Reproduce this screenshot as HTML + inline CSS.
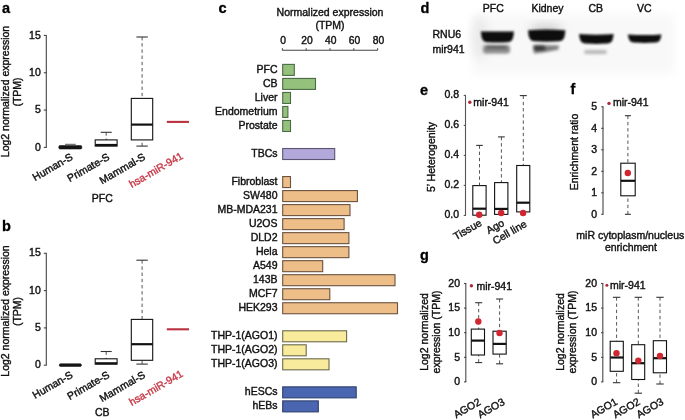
<!DOCTYPE html>
<html><head><meta charset="utf-8"><style>
html,body{margin:0;padding:0;background:#fff;width:685px;height:420px;overflow:hidden}
svg{display:block;font-family:"Liberation Sans", sans-serif;will-change:transform}
</style></head><body>
<svg width="685" height="420" viewBox="0 0 685 420">
<rect width="685" height="420" fill="#fff"/>
<text x="2" y="13" font-size="14.5" text-anchor="start" fill="#000" stroke="#000" stroke-width="0.3" font-weight="bold">a</text>
<line x1="46.30" y1="35.41" x2="46.30" y2="147.40" stroke="#444" stroke-width="1.1"/>
<line x1="43.80" y1="147.40" x2="46.80" y2="147.40" stroke="#444" stroke-width="1.1"/>
<text x="40.8" y="150.5" font-size="10.5" text-anchor="end" fill="#111" stroke="#111" stroke-width="0.4" font-weight="normal">0</text>
<line x1="43.80" y1="110.07" x2="46.80" y2="110.07" stroke="#444" stroke-width="1.1"/>
<text x="40.8" y="113.17" font-size="10.5" text-anchor="end" fill="#111" stroke="#111" stroke-width="0.4" font-weight="normal">5</text>
<line x1="43.80" y1="72.74" x2="46.80" y2="72.74" stroke="#444" stroke-width="1.1"/>
<text x="40.8" y="75.84" font-size="10.5" text-anchor="end" fill="#111" stroke="#111" stroke-width="0.4" font-weight="normal">10</text>
<line x1="43.80" y1="35.41" x2="46.80" y2="35.41" stroke="#444" stroke-width="1.1"/>
<text x="40.8" y="38.51000000000001" font-size="10.5" text-anchor="end" fill="#111" stroke="#111" stroke-width="0.4" font-weight="normal">15</text>
<text x="0" y="0" font-size="10.5" text-anchor="middle" fill="#111" stroke="#111" stroke-width="0.4" font-weight="normal" transform="translate(9.2,91.5) rotate(-90)">Log2 normalized expression</text>
<text x="0" y="0" font-size="10.5" text-anchor="middle" fill="#111" stroke="#111" stroke-width="0.4" font-weight="normal" transform="translate(21.4,92) rotate(-90)">(TPM)</text>
<line x1="65.00" y1="144.30" x2="75.70" y2="144.30" stroke="#555" stroke-width="1"/>
<rect x="58.80" y="145.60" width="23.00" height="3.40" fill="#151515" stroke="#151515" stroke-width="0.6" rx="1.2"/>
<line x1="106.20" y1="132.30" x2="106.20" y2="139.90" stroke="#555" stroke-width="1" stroke-dasharray="3.4,2.8"/>
<line x1="100.70" y1="132.30" x2="111.70" y2="132.30" stroke="#333" stroke-width="1.1"/>
<rect x="95.20" y="139.90" width="21.90" height="6.20" fill="white" stroke="#111" stroke-width="1.1"/>
<line x1="95.20" y1="145.00" x2="117.10" y2="145.00" stroke="#111" stroke-width="2.2"/>
<line x1="142.10" y1="37.00" x2="142.10" y2="98.40" stroke="#555" stroke-width="1" stroke-dasharray="3.4,2.8"/>
<line x1="136.40" y1="37.00" x2="147.80" y2="37.00" stroke="#333" stroke-width="1.1"/>
<line x1="142.10" y1="146.10" x2="142.10" y2="139.90" stroke="#555" stroke-width="1" stroke-dasharray="3.4,2.8"/>
<line x1="136.40" y1="146.10" x2="147.80" y2="146.10" stroke="#333" stroke-width="1.1"/>
<rect x="131.30" y="98.40" width="21.40" height="41.50" fill="white" stroke="#111" stroke-width="1.1"/>
<line x1="131.30" y1="124.60" x2="152.70" y2="124.60" stroke="#111" stroke-width="2.2"/>
<line x1="166.80" y1="121.90" x2="189.00" y2="121.90" stroke="#b8323f" stroke-width="2.1"/>
<text x="0" y="0" font-size="10.5" text-anchor="end" fill="#111" stroke="#111" stroke-width="0.4" font-weight="normal" transform="translate(73.5,159) rotate(-30)">Human-S</text>
<text x="0" y="0" font-size="10.5" text-anchor="end" fill="#111" stroke="#111" stroke-width="0.4" font-weight="normal" transform="translate(110.3,159) rotate(-30)">Primate-S</text>
<text x="0" y="0" font-size="10.5" text-anchor="end" fill="#111" stroke="#111" stroke-width="0.4" font-weight="normal" transform="translate(146,159) rotate(-30)">Mammal-S</text>
<text x="0" y="0" font-size="10.5" text-anchor="end" fill="#c83a48" stroke="#c83a48" stroke-width="0.4" font-weight="normal" transform="translate(183.8,158) rotate(-30)">hsa-miR-941</text>
<text x="102.3" y="202.4" font-size="10.5" text-anchor="middle" fill="#111" stroke="#111" stroke-width="0.4" font-weight="normal">PFC</text>
<text x="2" y="230.9" font-size="14.5" text-anchor="start" fill="#000" stroke="#000" stroke-width="0.3" font-weight="bold">b</text>
<line x1="46.30" y1="253.30" x2="46.30" y2="365.20" stroke="#444" stroke-width="1.1"/>
<line x1="43.80" y1="365.20" x2="46.80" y2="365.20" stroke="#444" stroke-width="1.1"/>
<text x="40.8" y="368.3" font-size="10.5" text-anchor="end" fill="#111" stroke="#111" stroke-width="0.4" font-weight="normal">0</text>
<line x1="43.80" y1="327.90" x2="46.80" y2="327.90" stroke="#444" stroke-width="1.1"/>
<text x="40.8" y="331.0" font-size="10.5" text-anchor="end" fill="#111" stroke="#111" stroke-width="0.4" font-weight="normal">5</text>
<line x1="43.80" y1="290.60" x2="46.80" y2="290.60" stroke="#444" stroke-width="1.1"/>
<text x="40.8" y="293.70000000000005" font-size="10.5" text-anchor="end" fill="#111" stroke="#111" stroke-width="0.4" font-weight="normal">10</text>
<line x1="43.80" y1="253.30" x2="46.80" y2="253.30" stroke="#444" stroke-width="1.1"/>
<text x="40.8" y="256.40000000000003" font-size="10.5" text-anchor="end" fill="#111" stroke="#111" stroke-width="0.4" font-weight="normal">15</text>
<text x="0" y="0" font-size="10.5" text-anchor="middle" fill="#111" stroke="#111" stroke-width="0.4" font-weight="normal" transform="translate(9.2,311.0) rotate(-90)">Log2 normalized expression</text>
<text x="0" y="0" font-size="10.5" text-anchor="middle" fill="#111" stroke="#111" stroke-width="0.4" font-weight="normal" transform="translate(21.4,311.5) rotate(-90)">(TPM)</text>
<rect x="59.30" y="363.80" width="22.10" height="2.60" fill="#151515" stroke="#151515" stroke-width="0.6" rx="1.2"/>
<line x1="106.20" y1="351.50" x2="106.20" y2="358.80" stroke="#555" stroke-width="1" stroke-dasharray="3.4,2.8"/>
<line x1="100.70" y1="351.50" x2="111.70" y2="351.50" stroke="#333" stroke-width="1.1"/>
<rect x="95.20" y="358.80" width="21.90" height="5.30" fill="white" stroke="#111" stroke-width="1.1"/>
<line x1="95.20" y1="363.30" x2="117.10" y2="363.30" stroke="#111" stroke-width="2.2"/>
<line x1="142.10" y1="260.20" x2="142.10" y2="319.40" stroke="#555" stroke-width="1" stroke-dasharray="3.4,2.8"/>
<line x1="136.40" y1="260.20" x2="147.80" y2="260.20" stroke="#333" stroke-width="1.1"/>
<line x1="142.10" y1="364.10" x2="142.10" y2="360.30" stroke="#555" stroke-width="1" stroke-dasharray="3.4,2.8"/>
<line x1="136.40" y1="364.10" x2="147.80" y2="364.10" stroke="#333" stroke-width="1.1"/>
<rect x="131.30" y="319.40" width="21.40" height="40.90" fill="white" stroke="#111" stroke-width="1.1"/>
<line x1="131.30" y1="344.20" x2="152.70" y2="344.20" stroke="#111" stroke-width="2.2"/>
<line x1="166.80" y1="329.30" x2="189.00" y2="329.30" stroke="#b8323f" stroke-width="2.1"/>
<text x="0" y="0" font-size="10.5" text-anchor="end" fill="#111" stroke="#111" stroke-width="0.4" font-weight="normal" transform="translate(73.5,376.9) rotate(-30)">Human-S</text>
<text x="0" y="0" font-size="10.5" text-anchor="end" fill="#111" stroke="#111" stroke-width="0.4" font-weight="normal" transform="translate(110.3,376.9) rotate(-30)">Primate-S</text>
<text x="0" y="0" font-size="10.5" text-anchor="end" fill="#111" stroke="#111" stroke-width="0.4" font-weight="normal" transform="translate(146,376.9) rotate(-30)">Mammal-S</text>
<text x="0" y="0" font-size="10.5" text-anchor="end" fill="#c83a48" stroke="#c83a48" stroke-width="0.4" font-weight="normal" transform="translate(183.8,375.9) rotate(-30)">hsa-miR-941</text>
<text x="102.3" y="416.2" font-size="10.5" text-anchor="middle" fill="#111" stroke="#111" stroke-width="0.4" font-weight="normal">CB</text>
<text x="218.5" y="13.2" font-size="14.5" text-anchor="start" fill="#000" stroke="#000" stroke-width="0.3" font-weight="bold">c</text>
<text x="330" y="15.5" font-size="10.5" text-anchor="middle" fill="#111" stroke="#111" stroke-width="0.4" font-weight="normal">Normalized expression</text>
<text x="330" y="29" font-size="10.5" text-anchor="middle" fill="#111" stroke="#111" stroke-width="0.4" font-weight="normal">(TPM)</text>
<line x1="282.40" y1="50.30" x2="377.60" y2="50.30" stroke="#444" stroke-width="1.1"/>
<line x1="282.40" y1="48.30" x2="282.40" y2="50.30" stroke="#444" stroke-width="1.1"/>
<text x="283.2" y="44.2" font-size="10.3" text-anchor="middle" fill="#111" stroke="#111" stroke-width="0.4" font-weight="normal">0</text>
<line x1="306.20" y1="48.30" x2="306.20" y2="50.30" stroke="#444" stroke-width="1.1"/>
<text x="307.0" y="44.2" font-size="10.3" text-anchor="middle" fill="#111" stroke="#111" stroke-width="0.4" font-weight="normal">20</text>
<line x1="330.00" y1="48.30" x2="330.00" y2="50.30" stroke="#444" stroke-width="1.1"/>
<text x="330.8" y="44.2" font-size="10.3" text-anchor="middle" fill="#111" stroke="#111" stroke-width="0.4" font-weight="normal">40</text>
<line x1="353.80" y1="48.30" x2="353.80" y2="50.30" stroke="#444" stroke-width="1.1"/>
<text x="354.59999999999997" y="44.2" font-size="10.3" text-anchor="middle" fill="#111" stroke="#111" stroke-width="0.4" font-weight="normal">60</text>
<line x1="377.60" y1="48.30" x2="377.60" y2="50.30" stroke="#444" stroke-width="1.1"/>
<text x="378.4" y="44.2" font-size="10.3" text-anchor="middle" fill="#111" stroke="#111" stroke-width="0.4" font-weight="normal">80</text>
<rect x="282.70" y="64.40" width="11.60" height="11.00" fill="#94c27c" stroke="#4c6a45" stroke-width="1.1"/>
<text x="277.5" y="72.6" font-size="10.5" text-anchor="end" fill="#111" stroke="#111" stroke-width="0.4" font-weight="normal">PFC</text>
<rect x="282.70" y="78.42" width="32.80" height="11.00" fill="#94c27c" stroke="#4c6a45" stroke-width="1.1"/>
<text x="277.5" y="86.62" font-size="10.5" text-anchor="end" fill="#111" stroke="#111" stroke-width="0.4" font-weight="normal">CB</text>
<rect x="282.70" y="92.44" width="7.80" height="11.00" fill="#94c27c" stroke="#4c6a45" stroke-width="1.1"/>
<text x="277.5" y="100.64" font-size="10.5" text-anchor="end" fill="#111" stroke="#111" stroke-width="0.4" font-weight="normal">Liver</text>
<rect x="282.70" y="106.46" width="5.20" height="11.00" fill="#94c27c" stroke="#4c6a45" stroke-width="1.1"/>
<text x="277.5" y="114.66000000000001" font-size="10.5" text-anchor="end" fill="#111" stroke="#111" stroke-width="0.4" font-weight="normal">Endometrium</text>
<rect x="282.70" y="120.48" width="7.80" height="11.00" fill="#94c27c" stroke="#4c6a45" stroke-width="1.1"/>
<text x="277.5" y="128.67999999999998" font-size="10.5" text-anchor="end" fill="#111" stroke="#111" stroke-width="0.4" font-weight="normal">Prostate</text>
<rect x="282.70" y="148.52" width="52.00" height="11.00" fill="#b3a8da" stroke="#5a5570" stroke-width="1.1"/>
<text x="277.5" y="156.72" font-size="10.5" text-anchor="end" fill="#111" stroke="#111" stroke-width="0.4" font-weight="normal">TBCs</text>
<rect x="282.70" y="176.56" width="7.80" height="11.00" fill="#eebe88" stroke="#6a5240" stroke-width="1.1"/>
<text x="277.5" y="184.76" font-size="10.5" text-anchor="end" fill="#111" stroke="#111" stroke-width="0.4" font-weight="normal">Fibroblast</text>
<rect x="282.70" y="190.58" width="74.70" height="11.00" fill="#eebe88" stroke="#6a5240" stroke-width="1.1"/>
<text x="277.5" y="198.77999999999997" font-size="10.5" text-anchor="end" fill="#111" stroke="#111" stroke-width="0.4" font-weight="normal">SW480</text>
<rect x="282.70" y="204.60" width="67.30" height="11.00" fill="#eebe88" stroke="#6a5240" stroke-width="1.1"/>
<text x="277.5" y="212.79999999999998" font-size="10.5" text-anchor="end" fill="#111" stroke="#111" stroke-width="0.4" font-weight="normal">MB-MDA231</text>
<rect x="282.70" y="218.62" width="61.40" height="11.00" fill="#eebe88" stroke="#6a5240" stroke-width="1.1"/>
<text x="277.5" y="226.82" font-size="10.5" text-anchor="end" fill="#111" stroke="#111" stroke-width="0.4" font-weight="normal">U2OS</text>
<rect x="282.70" y="232.64" width="66.20" height="11.00" fill="#eebe88" stroke="#6a5240" stroke-width="1.1"/>
<text x="277.5" y="240.84" font-size="10.5" text-anchor="end" fill="#111" stroke="#111" stroke-width="0.4" font-weight="normal">DLD2</text>
<rect x="282.70" y="246.66" width="66.20" height="11.00" fill="#eebe88" stroke="#6a5240" stroke-width="1.1"/>
<text x="277.5" y="254.85999999999999" font-size="10.5" text-anchor="end" fill="#111" stroke="#111" stroke-width="0.4" font-weight="normal">Hela</text>
<rect x="282.70" y="260.68" width="40.00" height="11.00" fill="#eebe88" stroke="#6a5240" stroke-width="1.1"/>
<text x="277.5" y="268.88" font-size="10.5" text-anchor="end" fill="#111" stroke="#111" stroke-width="0.4" font-weight="normal">A549</text>
<rect x="282.70" y="274.70" width="112.30" height="11.00" fill="#eebe88" stroke="#6a5240" stroke-width="1.1"/>
<text x="277.5" y="282.9" font-size="10.5" text-anchor="end" fill="#111" stroke="#111" stroke-width="0.4" font-weight="normal">143B</text>
<rect x="282.70" y="288.72" width="47.10" height="11.00" fill="#eebe88" stroke="#6a5240" stroke-width="1.1"/>
<text x="277.5" y="296.91999999999996" font-size="10.5" text-anchor="end" fill="#111" stroke="#111" stroke-width="0.4" font-weight="normal">MCF7</text>
<rect x="282.70" y="302.74" width="114.80" height="11.00" fill="#eebe88" stroke="#6a5240" stroke-width="1.1"/>
<text x="277.5" y="310.94" font-size="10.5" text-anchor="end" fill="#111" stroke="#111" stroke-width="0.4" font-weight="normal">HEK293</text>
<rect x="282.70" y="330.78" width="63.90" height="11.00" fill="#f8ec9c" stroke="#6c6a4e" stroke-width="1.1"/>
<text x="277.5" y="338.97999999999996" font-size="10.5" text-anchor="end" fill="#111" stroke="#111" stroke-width="0.4" font-weight="normal">THP-1(AGO1)</text>
<rect x="282.70" y="344.80" width="23.50" height="11.00" fill="#f8ec9c" stroke="#6c6a4e" stroke-width="1.1"/>
<text x="277.5" y="352.99999999999994" font-size="10.5" text-anchor="end" fill="#111" stroke="#111" stroke-width="0.4" font-weight="normal">THP-1(AGO2)</text>
<rect x="282.70" y="358.82" width="46.30" height="11.00" fill="#f8ec9c" stroke="#6c6a4e" stroke-width="1.1"/>
<text x="277.5" y="367.02" font-size="10.5" text-anchor="end" fill="#111" stroke="#111" stroke-width="0.4" font-weight="normal">THP-1(AGO3)</text>
<rect x="282.70" y="386.86" width="73.50" height="11.00" fill="#4a66b0" stroke="#2e3f6e" stroke-width="1.1"/>
<text x="277.5" y="395.05999999999995" font-size="10.5" text-anchor="end" fill="#111" stroke="#111" stroke-width="0.4" font-weight="normal">hESCs</text>
<rect x="282.70" y="400.88" width="35.60" height="11.00" fill="#4a66b0" stroke="#2e3f6e" stroke-width="1.1"/>
<text x="277.5" y="409.08" font-size="10.5" text-anchor="end" fill="#111" stroke="#111" stroke-width="0.4" font-weight="normal">hEBs</text>
<defs><filter id="bl" x="-30%" y="-100%" width="160%" height="300%"><feGaussianBlur stdDeviation="0.8"/></filter><filter id="bl2" x="-30%" y="-100%" width="160%" height="300%"><feGaussianBlur stdDeviation="1.6"/></filter><filter id="bl3" x="-50%" y="-50%" width="200%" height="200%"><feGaussianBlur stdDeviation="5"/></filter></defs>
<rect x="472" y="14" width="202" height="60" fill="#f8f8f8" filter="url(#bl3)"/>
<ellipse cx="480" cy="38" rx="8" ry="22" fill="#eaeaea" filter="url(#bl3)"/>
<ellipse cx="546" cy="29" rx="17" ry="5" fill="#d0d0d0" filter="url(#bl3)"/>
<path d="M480.8,31.5 Q497.4,31.5 514,31.5 L513.2,37.2 Q512.2,42.2 507,42.2 Q497.4,43.0 487.8,42.2 Q482.6,42.2 481.6,37.2 Z" fill="#0b0b0b" filter="url(#bl)"/>
<path d="M528,30.2 Q546.7,29.0 565.4,30.2 L564.6,36.3 Q563.6,41.3 558.4,41.3 Q546.7,42.099999999999994 535,41.3 Q529.8,41.3 528.8,36.3 Z" fill="#0b0b0b" filter="url(#bl)"/>
<path d="M579.0,34.0 Q596.35,35.5 613.7,34.0 L612.9000000000001,38.6 Q611.9000000000001,43.6 606.7,43.6 Q596.35,44.4 586.0,43.6 Q580.8,43.6 579.8,38.6 Z" fill="#0b0b0b" filter="url(#bl)"/>
<path d="M627.8,34.5 Q644.65,35.5 661.5,34.5 L660.7,38.1 Q659.7,42.6 655.0,42.6 Q644.65,43.4 634.3,42.6 Q629.5999999999999,42.6 628.5999999999999,38.1 Z" fill="#0b0b0b" filter="url(#bl)"/>
<g filter="url(#bl2)">
<rect x="483" y="45" width="27" height="8.5" rx="3" fill="#8a8a8a"/>
<rect x="486" y="45.5" width="21" height="3" rx="1.5" fill="#555"/>
<path d="M533,45 L559,45.5 L558.5,49.5 L546,52 L534,53.5 Z" fill="#7a7a7a"/>
<rect x="533.5" y="45" width="12" height="6" rx="2.5" fill="#3a3a3a"/>
<rect x="584" y="50" width="23" height="4" rx="2" fill="#b8b8b8"/>
</g>
<text x="420.5" y="13" font-size="14.5" text-anchor="start" fill="#000" stroke="#000" stroke-width="0.3" font-weight="bold">d</text>
<text x="493.3" y="12.3" font-size="10.5" text-anchor="middle" fill="#111" stroke="#111" stroke-width="0.4" font-weight="normal">PFC</text>
<text x="547.5" y="12.3" font-size="10.5" text-anchor="middle" fill="#111" stroke="#111" stroke-width="0.4" font-weight="normal">Kidney</text>
<text x="595.8" y="12.3" font-size="10.5" text-anchor="middle" fill="#111" stroke="#111" stroke-width="0.4" font-weight="normal">CB</text>
<text x="644.3" y="12.3" font-size="10.5" text-anchor="middle" fill="#111" stroke="#111" stroke-width="0.4" font-weight="normal">VC</text>
<text x="432.5" y="37.7" font-size="10.5" text-anchor="start" fill="#111" stroke="#111" stroke-width="0.4" font-weight="normal">RNU6</text>
<text x="432.5" y="53.3" font-size="10.5" text-anchor="start" fill="#111" stroke="#111" stroke-width="0.4" font-weight="normal">mir941</text>
<text x="420" y="94.8" font-size="14.5" text-anchor="start" fill="#000" stroke="#000" stroke-width="0.3" font-weight="bold">e</text>
<line x1="465.50" y1="95.40" x2="465.50" y2="215.40" stroke="#555" stroke-width="1.1"/>
<line x1="463.70" y1="215.40" x2="466.00" y2="215.40" stroke="#555" stroke-width="1.1"/>
<text x="459" y="218.3" font-size="10.5" text-anchor="end" fill="#111" stroke="#111" stroke-width="0.4" font-weight="normal">0.0</text>
<line x1="463.70" y1="185.40" x2="466.00" y2="185.40" stroke="#555" stroke-width="1.1"/>
<text x="459" y="188.3" font-size="10.5" text-anchor="end" fill="#111" stroke="#111" stroke-width="0.4" font-weight="normal">0.2</text>
<line x1="463.70" y1="155.40" x2="466.00" y2="155.40" stroke="#555" stroke-width="1.1"/>
<text x="459" y="158.3" font-size="10.5" text-anchor="end" fill="#111" stroke="#111" stroke-width="0.4" font-weight="normal">0.4</text>
<line x1="463.70" y1="125.40" x2="466.00" y2="125.40" stroke="#555" stroke-width="1.1"/>
<text x="459" y="128.3" font-size="10.5" text-anchor="end" fill="#111" stroke="#111" stroke-width="0.4" font-weight="normal">0.6</text>
<line x1="463.70" y1="95.40" x2="466.00" y2="95.40" stroke="#555" stroke-width="1.1"/>
<text x="459" y="98.30000000000001" font-size="10.5" text-anchor="end" fill="#111" stroke="#111" stroke-width="0.4" font-weight="normal">0.8</text>
<text x="0" y="0" font-size="10.5" text-anchor="middle" fill="#111" stroke="#111" stroke-width="0.4" font-weight="normal" transform="translate(435,157) rotate(-90)">5’ Heterogenity</text>
<circle cx="469.8" cy="102.2" r="1.7" fill="#b0283a"/>
<text x="473.3" y="106.2" font-size="10.5" text-anchor="start" fill="#111" stroke="#111" stroke-width="0.4" font-weight="normal">mir-941</text>
<line x1="479.50" y1="145.40" x2="479.50" y2="185.60" stroke="#555" stroke-width="1" stroke-dasharray="3.4,2.8"/>
<line x1="476.20" y1="145.40" x2="482.80" y2="145.40" stroke="#333" stroke-width="1.1"/>
<rect x="472.80" y="185.60" width="13.30" height="29.60" fill="white" stroke="#111" stroke-width="1.1"/>
<line x1="472.80" y1="208.70" x2="486.10" y2="208.70" stroke="#111" stroke-width="2.2"/>
<line x1="501.40" y1="136.90" x2="501.40" y2="182.60" stroke="#555" stroke-width="1" stroke-dasharray="3.4,2.8"/>
<line x1="498.05" y1="136.90" x2="504.75" y2="136.90" stroke="#333" stroke-width="1.1"/>
<rect x="494.60" y="182.60" width="13.30" height="31.80" fill="white" stroke="#111" stroke-width="1.1"/>
<line x1="494.60" y1="208.90" x2="507.90" y2="208.90" stroke="#111" stroke-width="2.2"/>
<line x1="523.30" y1="95.60" x2="523.30" y2="165.50" stroke="#555" stroke-width="1" stroke-dasharray="3.4,2.8"/>
<line x1="519.80" y1="95.60" x2="526.80" y2="95.60" stroke="#333" stroke-width="1.1"/>
<rect x="516.70" y="165.50" width="13.10" height="46.40" fill="white" stroke="#111" stroke-width="1.1"/>
<line x1="516.70" y1="202.70" x2="529.80" y2="202.70" stroke="#111" stroke-width="2.2"/>
<circle cx="479.2" cy="214.7" r="3.2" fill="#d0262f"/>
<circle cx="501.2" cy="213.0" r="3.2" fill="#d0262f"/>
<circle cx="523.1" cy="213.0" r="3.2" fill="#d0262f"/>
<text x="0" y="0" font-size="10.5" text-anchor="end" fill="#111" stroke="#111" stroke-width="0.4" font-weight="normal" transform="translate(482.5,225) rotate(-30)">Tissue</text>
<text x="0" y="0" font-size="10.5" text-anchor="end" fill="#111" stroke="#111" stroke-width="0.4" font-weight="normal" transform="translate(505,225) rotate(-30)">Ago</text>
<text x="0" y="0" font-size="10.5" text-anchor="end" fill="#111" stroke="#111" stroke-width="0.4" font-weight="normal" transform="translate(527.5,226) rotate(-30)">Cell line</text>
<text x="570.5" y="93.8" font-size="14.5" text-anchor="start" fill="#000" stroke="#000" stroke-width="0.3" font-weight="bold">f</text>
<line x1="603.00" y1="106.80" x2="603.00" y2="214.30" stroke="#444" stroke-width="1.1"/>
<line x1="601.20" y1="214.30" x2="603.50" y2="214.30" stroke="#444" stroke-width="1.1"/>
<text x="597.2" y="217.5" font-size="10.5" text-anchor="end" fill="#111" stroke="#111" stroke-width="0.4" font-weight="normal">0</text>
<line x1="601.20" y1="192.80" x2="603.50" y2="192.80" stroke="#444" stroke-width="1.1"/>
<text x="597.2" y="196.0" font-size="10.5" text-anchor="end" fill="#111" stroke="#111" stroke-width="0.4" font-weight="normal">1</text>
<line x1="601.20" y1="171.30" x2="603.50" y2="171.30" stroke="#444" stroke-width="1.1"/>
<text x="597.2" y="174.5" font-size="10.5" text-anchor="end" fill="#111" stroke="#111" stroke-width="0.4" font-weight="normal">2</text>
<line x1="601.20" y1="149.80" x2="603.50" y2="149.80" stroke="#444" stroke-width="1.1"/>
<text x="597.2" y="153.0" font-size="10.5" text-anchor="end" fill="#111" stroke="#111" stroke-width="0.4" font-weight="normal">3</text>
<line x1="601.20" y1="128.30" x2="603.50" y2="128.30" stroke="#444" stroke-width="1.1"/>
<text x="597.2" y="131.5" font-size="10.5" text-anchor="end" fill="#111" stroke="#111" stroke-width="0.4" font-weight="normal">4</text>
<line x1="601.20" y1="106.80" x2="603.50" y2="106.80" stroke="#444" stroke-width="1.1"/>
<text x="597.2" y="110.00000000000001" font-size="10.5" text-anchor="end" fill="#111" stroke="#111" stroke-width="0.4" font-weight="normal">5</text>
<text x="0" y="0" font-size="10.5" text-anchor="middle" fill="#111" stroke="#111" stroke-width="0.4" font-weight="normal" transform="translate(577.9,152) rotate(-90)">Enrichment ratio</text>
<circle cx="609" cy="103.4" r="1.7" fill="#b0283a"/>
<text x="612.9" y="105.7" font-size="10.5" text-anchor="start" fill="#111" stroke="#111" stroke-width="0.4" font-weight="normal">mir-941</text>
<line x1="627.90" y1="115.70" x2="627.90" y2="163.20" stroke="#555" stroke-width="1" stroke-dasharray="3.4,2.8"/>
<line x1="624.90" y1="115.70" x2="630.90" y2="115.70" stroke="#333" stroke-width="1.1"/>
<line x1="627.90" y1="214.30" x2="627.90" y2="195.80" stroke="#555" stroke-width="1" stroke-dasharray="3.4,2.8"/>
<line x1="624.90" y1="214.30" x2="630.90" y2="214.30" stroke="#333" stroke-width="1.1"/>
<rect x="620.80" y="163.20" width="14.40" height="32.60" fill="white" stroke="#111" stroke-width="1.1"/>
<line x1="620.80" y1="180.80" x2="635.20" y2="180.80" stroke="#111" stroke-width="2.2"/>
<circle cx="627.8" cy="173.0" r="3.2" fill="#d0262f"/>
<text x="630.3" y="238.6" font-size="10.5" text-anchor="middle" fill="#111" stroke="#111" stroke-width="0.4" font-weight="normal">miR cytoplasm/nucleus</text>
<text x="630.9" y="251.4" font-size="10.5" text-anchor="middle" fill="#111" stroke="#111" stroke-width="0.4" font-weight="normal">enrichment</text>
<text x="420" y="260" font-size="14.5" text-anchor="start" fill="#000" stroke="#000" stroke-width="0.3" font-weight="bold">g</text>
<line x1="465.80" y1="283.50" x2="465.80" y2="381.90" stroke="#484848" stroke-width="1.1"/>
<line x1="464.00" y1="381.90" x2="466.30" y2="381.90" stroke="#484848" stroke-width="1.1"/>
<text x="460" y="385.2" font-size="10.5" text-anchor="end" fill="#111" stroke="#111" stroke-width="0.4" font-weight="normal">0</text>
<line x1="464.00" y1="357.30" x2="466.30" y2="357.30" stroke="#484848" stroke-width="1.1"/>
<text x="460" y="360.59999999999997" font-size="10.5" text-anchor="end" fill="#111" stroke="#111" stroke-width="0.4" font-weight="normal">5</text>
<line x1="464.00" y1="332.70" x2="466.30" y2="332.70" stroke="#484848" stroke-width="1.1"/>
<text x="460" y="336.0" font-size="10.5" text-anchor="end" fill="#111" stroke="#111" stroke-width="0.4" font-weight="normal">10</text>
<line x1="464.00" y1="308.10" x2="466.30" y2="308.10" stroke="#484848" stroke-width="1.1"/>
<text x="460" y="311.4" font-size="10.5" text-anchor="end" fill="#111" stroke="#111" stroke-width="0.4" font-weight="normal">15</text>
<line x1="464.00" y1="283.50" x2="466.30" y2="283.50" stroke="#484848" stroke-width="1.1"/>
<text x="460" y="286.8" font-size="10.5" text-anchor="end" fill="#111" stroke="#111" stroke-width="0.4" font-weight="normal">20</text>
<text x="0" y="0" font-size="10.5" text-anchor="middle" fill="#111" stroke="#111" stroke-width="0.4" font-weight="normal" transform="translate(428,332) rotate(-90)">Log2 normalized</text>
<text x="0" y="0" font-size="10.5" text-anchor="middle" fill="#111" stroke="#111" stroke-width="0.4" font-weight="normal" transform="translate(440,332) rotate(-90)">expression (TPM)</text>
<line x1="602.80" y1="283.50" x2="602.80" y2="381.90" stroke="#484848" stroke-width="1.1"/>
<line x1="601.00" y1="381.90" x2="603.30" y2="381.90" stroke="#484848" stroke-width="1.1"/>
<text x="597" y="385.2" font-size="10.5" text-anchor="end" fill="#111" stroke="#111" stroke-width="0.4" font-weight="normal">0</text>
<line x1="601.00" y1="357.30" x2="603.30" y2="357.30" stroke="#484848" stroke-width="1.1"/>
<text x="597" y="360.59999999999997" font-size="10.5" text-anchor="end" fill="#111" stroke="#111" stroke-width="0.4" font-weight="normal">5</text>
<line x1="601.00" y1="332.70" x2="603.30" y2="332.70" stroke="#484848" stroke-width="1.1"/>
<text x="597" y="336.0" font-size="10.5" text-anchor="end" fill="#111" stroke="#111" stroke-width="0.4" font-weight="normal">10</text>
<line x1="601.00" y1="308.10" x2="603.30" y2="308.10" stroke="#484848" stroke-width="1.1"/>
<text x="597" y="311.4" font-size="10.5" text-anchor="end" fill="#111" stroke="#111" stroke-width="0.4" font-weight="normal">15</text>
<line x1="601.00" y1="283.50" x2="603.30" y2="283.50" stroke="#484848" stroke-width="1.1"/>
<text x="597" y="286.8" font-size="10.5" text-anchor="end" fill="#111" stroke="#111" stroke-width="0.4" font-weight="normal">20</text>
<text x="0" y="0" font-size="10.5" text-anchor="middle" fill="#111" stroke="#111" stroke-width="0.4" font-weight="normal" transform="translate(563.5,332) rotate(-90)">Log2 normalized</text>
<text x="0" y="0" font-size="10.5" text-anchor="middle" fill="#111" stroke="#111" stroke-width="0.4" font-weight="normal" transform="translate(575.5,332) rotate(-90)">expression (TPM)</text>
<circle cx="471.4" cy="285.8" r="1.7" fill="#b0283a"/>
<text x="476.4" y="289.5" font-size="10.5" text-anchor="start" fill="#111" stroke="#111" stroke-width="0.4" font-weight="normal">mir-941</text>
<circle cx="606.9" cy="285.3" r="1.5" fill="#b0283a"/>
<text x="610" y="289" font-size="10.5" text-anchor="start" fill="#111" stroke="#111" stroke-width="0.4" font-weight="normal">mir-941</text>
<line x1="478.70" y1="302.70" x2="478.70" y2="329.10" stroke="#555" stroke-width="1" stroke-dasharray="3.4,2.8"/>
<line x1="475.20" y1="302.70" x2="482.20" y2="302.70" stroke="#333" stroke-width="1.1"/>
<line x1="478.70" y1="362.60" x2="478.70" y2="355.00" stroke="#555" stroke-width="1" stroke-dasharray="3.4,2.8"/>
<line x1="475.20" y1="362.60" x2="482.20" y2="362.60" stroke="#333" stroke-width="1.1"/>
<rect x="471.30" y="329.10" width="13.20" height="25.90" fill="white" stroke="#111" stroke-width="1.1"/>
<line x1="471.30" y1="340.60" x2="484.50" y2="340.60" stroke="#111" stroke-width="2.2"/>
<line x1="499.60" y1="299.00" x2="499.60" y2="331.20" stroke="#555" stroke-width="1" stroke-dasharray="3.4,2.8"/>
<line x1="496.10" y1="299.00" x2="503.10" y2="299.00" stroke="#333" stroke-width="1.1"/>
<line x1="499.60" y1="363.80" x2="499.60" y2="354.10" stroke="#555" stroke-width="1" stroke-dasharray="3.4,2.8"/>
<line x1="496.10" y1="363.80" x2="503.10" y2="363.80" stroke="#333" stroke-width="1.1"/>
<rect x="493.00" y="331.20" width="13.20" height="22.90" fill="white" stroke="#111" stroke-width="1.1"/>
<line x1="493.00" y1="343.90" x2="506.20" y2="343.90" stroke="#111" stroke-width="2.2"/>
<circle cx="478.3" cy="321.5" r="3.2" fill="#d0262f"/>
<circle cx="499.5" cy="333.0" r="3.2" fill="#d0262f"/>
<text x="0" y="0" font-size="10.5" text-anchor="end" fill="#111" stroke="#111" stroke-width="0.4" font-weight="normal" transform="translate(481.5,404) rotate(-30)">AGO2</text>
<text x="0" y="0" font-size="10.5" text-anchor="end" fill="#111" stroke="#111" stroke-width="0.4" font-weight="normal" transform="translate(505.5,404) rotate(-30)">AGO3</text>
<line x1="616.60" y1="297.30" x2="616.60" y2="341.30" stroke="#555" stroke-width="1" stroke-dasharray="3.4,2.8"/>
<line x1="612.90" y1="297.30" x2="620.30" y2="297.30" stroke="#333" stroke-width="1.1"/>
<line x1="616.60" y1="382.70" x2="616.60" y2="371.30" stroke="#555" stroke-width="1" stroke-dasharray="3.4,2.8"/>
<line x1="612.90" y1="382.70" x2="620.30" y2="382.70" stroke="#333" stroke-width="1.1"/>
<rect x="610.20" y="341.30" width="13.10" height="30.00" fill="white" stroke="#111" stroke-width="1.1"/>
<line x1="610.20" y1="357.50" x2="623.30" y2="357.50" stroke="#111" stroke-width="2.2"/>
<line x1="638.30" y1="297.30" x2="638.30" y2="344.70" stroke="#555" stroke-width="1" stroke-dasharray="3.4,2.8"/>
<line x1="634.60" y1="297.30" x2="642.00" y2="297.30" stroke="#333" stroke-width="1.1"/>
<line x1="638.30" y1="393.20" x2="638.30" y2="379.50" stroke="#555" stroke-width="1" stroke-dasharray="3.4,2.8"/>
<line x1="634.60" y1="393.20" x2="642.00" y2="393.20" stroke="#333" stroke-width="1.1"/>
<rect x="631.70" y="344.70" width="13.00" height="34.80" fill="white" stroke="#111" stroke-width="1.1"/>
<line x1="631.70" y1="363.20" x2="644.70" y2="363.20" stroke="#111" stroke-width="2.2"/>
<line x1="660.00" y1="297.30" x2="660.00" y2="340.70" stroke="#555" stroke-width="1" stroke-dasharray="3.4,2.8"/>
<line x1="656.30" y1="297.30" x2="663.70" y2="297.30" stroke="#333" stroke-width="1.1"/>
<line x1="660.00" y1="384.00" x2="660.00" y2="372.80" stroke="#555" stroke-width="1" stroke-dasharray="3.4,2.8"/>
<line x1="656.30" y1="384.00" x2="663.70" y2="384.00" stroke="#333" stroke-width="1.1"/>
<rect x="653.30" y="340.70" width="13.20" height="32.10" fill="white" stroke="#111" stroke-width="1.1"/>
<line x1="653.30" y1="358.20" x2="666.50" y2="358.20" stroke="#111" stroke-width="2.2"/>
<circle cx="616.5" cy="353.3" r="3.2" fill="#d0262f"/>
<circle cx="638.3" cy="360.8" r="3.2" fill="#d0262f"/>
<circle cx="660.0" cy="356.0" r="3.2" fill="#d0262f"/>
<text x="0" y="0" font-size="10.5" text-anchor="end" fill="#111" stroke="#111" stroke-width="0.4" font-weight="normal" transform="translate(618.2,403.8) rotate(-30)">AGO1</text>
<text x="0" y="0" font-size="10.5" text-anchor="end" fill="#111" stroke="#111" stroke-width="0.4" font-weight="normal" transform="translate(640.8,403.8) rotate(-30)">AGO2</text>
<text x="0" y="0" font-size="10.5" text-anchor="end" fill="#111" stroke="#111" stroke-width="0.4" font-weight="normal" transform="translate(664.3,403.8) rotate(-30)">AGO3</text>
</svg></body></html>
